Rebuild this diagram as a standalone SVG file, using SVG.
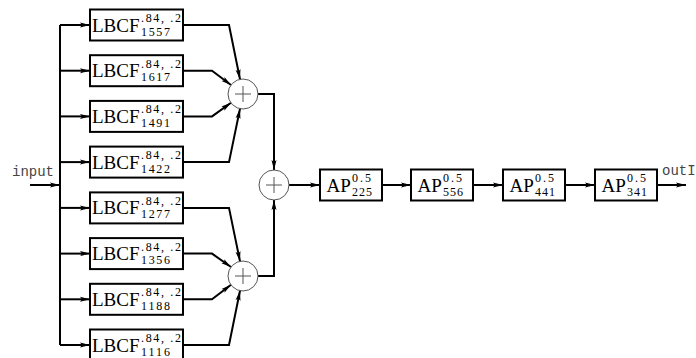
<svg xmlns="http://www.w3.org/2000/svg" width="696" height="358" viewBox="0 0 696 358">
<style>
.box{fill:#fff;stroke:#000;stroke-width:2}
.w{fill:none;stroke:#000;stroke-width:2}
.sum{fill:#fff;stroke:#555;stroke-width:1}
.plus{stroke:#555;stroke-width:1}
.big{font-family:"Liberation Serif",serif;font-size:19px;fill:#000}
.sm{font-family:"Liberation Serif",serif;font-size:12px;fill:#000}
.mono{font-family:"Liberation Mono",monospace;font-size:14px;fill:#444}
</style>
<defs>
<marker id="ah" markerUnits="userSpaceOnUse" markerWidth="12" markerHeight="8" refX="10" refY="3" orient="auto">
<path d="M0,0.5 L10,3 L0,5.5 L2,3 z" fill="#000"/>
</marker>
<g id="plusg"><circle class="sum" cx="0" cy="0" r="15"/><path class="plus" d="M-8,0 H8 M0,-8 V8"/></g>
</defs>
<rect width="696" height="358" fill="#fff"/>
<g id="connectors">
<path class="w" d="M30,185 H60" marker-end="url(#ah)"/>
<path class="w" d="M60,25 V345"/>
<path class="w" d="M60,25 H90" marker-end="url(#ah)"/>
<path class="w" d="M60,70.7 H90" marker-end="url(#ah)"/>
<path class="w" d="M60,116.4 H90" marker-end="url(#ah)"/>
<path class="w" d="M60,162.1 H90" marker-end="url(#ah)"/>
<path class="w" d="M60,207.9 H90" marker-end="url(#ah)"/>
<path class="w" d="M60,253.6 H90" marker-end="url(#ah)"/>
<path class="w" d="M60,299.3 H90" marker-end="url(#ah)"/>
<path class="w" d="M60,345 H90" marker-end="url(#ah)"/>
<path class="w" d="M183,25 H229 L240,79.3" marker-end="url(#ah)"/>
<path class="w" d="M183,70.7 H212 L231,85" marker-end="url(#ah)"/>
<path class="w" d="M183,116.4 H212 L231,102.8" marker-end="url(#ah)"/>
<path class="w" d="M183,162.1 H229 L240,108.7" marker-end="url(#ah)"/>
<path class="w" d="M183,207.9 H229 L240,261.3" marker-end="url(#ah)"/>
<path class="w" d="M183,253.6 H212 L231,267" marker-end="url(#ah)"/>
<path class="w" d="M183,299.3 H212 L231,284.8" marker-end="url(#ah)"/>
<path class="w" d="M183,345 H229 L240,290.7" marker-end="url(#ah)"/>
<path class="w" d="M258,94 H274 V170" marker-end="url(#ah)"/>
<path class="w" d="M258,276 H274 V200" marker-end="url(#ah)"/>
<path class="w" d="M289,185 H320" marker-end="url(#ah)"/>
<path class="w" d="M382,185 H411" marker-end="url(#ah)"/>
<path class="w" d="M473,185 H503" marker-end="url(#ah)"/>
<path class="w" d="M565,185 H595" marker-end="url(#ah)"/>
<path class="w" d="M657,185 H686" marker-end="url(#ah)"/>
</g>
<text class="mono" x="12" y="176">input</text>
<text class="mono" x="662" y="175">outI</text>
<g id="lbcf1557"><rect class="box" x="90" y="9.5" width="93" height="31"/><text class="big" x="92" y="31.5">LBCF</text><text class="sm" x="141" y="22" textLength="40">.84, .2</text><text class="sm" x="141" y="35.5" textLength="29">1557</text></g>
<g id="lbcf1617"><rect class="box" x="90" y="55.2" width="93" height="31"/><text class="big" x="92" y="77.2">LBCF</text><text class="sm" x="141" y="67.7" textLength="40">.84, .2</text><text class="sm" x="141" y="81.2" textLength="29">1617</text></g>
<g id="lbcf1491"><rect class="box" x="90" y="100.9" width="93" height="31"/><text class="big" x="92" y="122.9">LBCF</text><text class="sm" x="141" y="113.4" textLength="40">.84, .2</text><text class="sm" x="141" y="126.9" textLength="29">1491</text></g>
<g id="lbcf1422"><rect class="box" x="90" y="146.6" width="93" height="31"/><text class="big" x="92" y="168.6">LBCF</text><text class="sm" x="141" y="159.1" textLength="40">.84, .2</text><text class="sm" x="141" y="172.6" textLength="29">1422</text></g>
<g id="lbcf1277"><rect class="box" x="90" y="192.4" width="93" height="31"/><text class="big" x="92" y="214.4">LBCF</text><text class="sm" x="141" y="204.9" textLength="40">.84, .2</text><text class="sm" x="141" y="218.4" textLength="29">1277</text></g>
<g id="lbcf1356"><rect class="box" x="90" y="238.1" width="93" height="31"/><text class="big" x="92" y="260.1">LBCF</text><text class="sm" x="141" y="250.6" textLength="40">.84, .2</text><text class="sm" x="141" y="264.1" textLength="29">1356</text></g>
<g id="lbcf1188"><rect class="box" x="90" y="283.8" width="93" height="31"/><text class="big" x="92" y="305.8">LBCF</text><text class="sm" x="141" y="296.3" textLength="40">.84, .2</text><text class="sm" x="141" y="309.8" textLength="29">1188</text></g>
<g id="lbcf1116"><rect class="box" x="90" y="329.5" width="93" height="31"/><text class="big" x="92" y="351.5">LBCF</text><text class="sm" x="141" y="342" textLength="40">.84, .2</text><text class="sm" x="141" y="355.5" textLength="29">1116</text></g>
<g id="sumTop"><use href="#plusg" x="243" y="94"/></g>
<g id="sumBottom"><use href="#plusg" x="243" y="276"/></g>
<g id="sumFinal"><use href="#plusg" x="274" y="185"/></g>
<g id="ap225"><rect class="box" x="320" y="169.5" width="62" height="31"/><text class="big" x="326.5" y="191.5">AP</text><text class="sm" x="352" y="182" textLength="19">0.5</text><text class="sm" x="352" y="195.5" textLength="20">225</text></g>
<g id="ap556"><rect class="box" x="411" y="169.5" width="62" height="31"/><text class="big" x="417.5" y="191.5">AP</text><text class="sm" x="443" y="182" textLength="19">0.5</text><text class="sm" x="443" y="195.5" textLength="20">556</text></g>
<g id="ap441"><rect class="box" x="503" y="169.5" width="62" height="31"/><text class="big" x="509.5" y="191.5">AP</text><text class="sm" x="535" y="182" textLength="19">0.5</text><text class="sm" x="535" y="195.5" textLength="20">441</text></g>
<g id="ap341"><rect class="box" x="595" y="169.5" width="62" height="31"/><text class="big" x="601.5" y="191.5">AP</text><text class="sm" x="627" y="182" textLength="19">0.5</text><text class="sm" x="627" y="195.5" textLength="20">341</text></g>
</svg>
